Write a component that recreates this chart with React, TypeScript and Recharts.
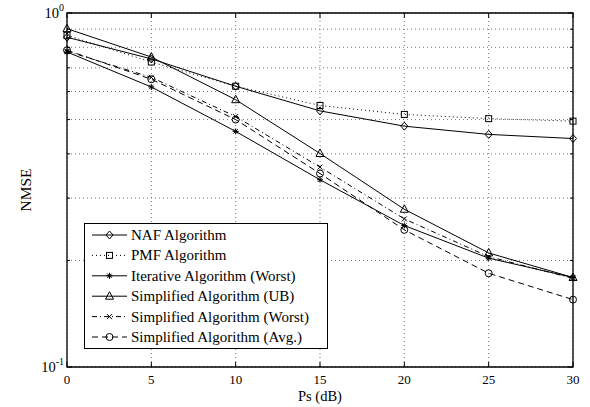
import React from "react";
import {
  LineChart,
  Line,
  XAxis,
  YAxis,
  CartesianGrid,
  Legend,
  ReferenceArea,
} from "recharts";

const psDb = [0, 5, 10, 15, 20, 25, 30];
const nafAlg = [0.854, 0.742, 0.621, 0.529, 0.479, 0.454, 0.442];
const pmfAlg = [0.865, 0.727, 0.621, 0.548, 0.517, 0.503, 0.495];
const iterWorst = [0.776, 0.618, 0.463, 0.338, 0.251, 0.203, 0.179];
const simpUB = [0.903, 0.751, 0.569, 0.401, 0.279, 0.21, 0.179];
const simpWorst = [0.78, 0.658, 0.51, 0.367, 0.262, 0.205, 0.178];
const simpAvg = [0.785, 0.65, 0.5, 0.352, 0.244, 0.184, 0.155];

const xTicks = [0, 5, 10, 15, 20, 25, 30];
const yTicks = [0.1, 0.2, 0.3, 0.4, 0.5, 0.6, 0.7, 0.8, 0.9, 1];
const yMajorLabels: Record<string, string> = { "0.1": "-1", "1": "0" };

const data = psDb.map((x, i) => ({
  x,
  naf: nafAlg[i],
  pmf: pmfAlg[i],
  iter: iterWorst[i],
  ub: simpUB[i],
  sw: simpWorst[i],
  avg: simpAvg[i],
}));

const W = 590;
const H = 407;
const PLOT_LEFT = 67;
const PLOT_RIGHT = 573;
const PLOT_TOP = 13;
const PLOT_BOTTOM = 367;
const FONT = "'Liberation Serif', 'Times New Roman', serif";

type Shape = "diamond" | "square" | "star" | "triangle" | "x" | "circle";

function Marker({ cx, cy, shape }: { cx: number; cy: number; shape: Shape }) {
  const p = { fill: "none", stroke: "#000", strokeWidth: 1 };
  switch (shape) {
    case "diamond":
      return (
        <polygon
          {...p}
          points={`${cx},${cy - 4} ${cx + 3.5},${cy} ${cx},${cy + 4} ${cx - 3.5},${cy}`}
        />
      );
    case "square":
      return <rect {...p} x={cx - 3} y={cy - 3} width={6} height={6} />;
    case "star":
      return (
        <g {...p}>
          <line x1={cx - 3} y1={cy} x2={cx + 3} y2={cy} />
          <line x1={cx} y1={cy - 3} x2={cx} y2={cy + 3} />
          <line x1={cx - 2.2} y1={cy - 2.2} x2={cx + 2.2} y2={cy + 2.2} />
          <line x1={cx - 2.2} y1={cy + 2.2} x2={cx + 2.2} y2={cy - 2.2} />
        </g>
      );
    case "triangle":
      return (
        <polygon
          {...p}
          points={`${cx},${cy - 4.5} ${cx + 4},${cy + 3} ${cx - 4},${cy + 3}`}
        />
      );
    case "x":
      return (
        <g {...p}>
          <line x1={cx - 2.5} y1={cy - 2.5} x2={cx + 2.5} y2={cy + 2.5} />
          <line x1={cx - 2.5} y1={cy + 2.5} x2={cx + 2.5} y2={cy - 2.5} />
        </g>
      );
    case "circle":
    default:
      return <circle {...p} cx={cx} cy={cy} r={3.5} />;
  }
}

const seriesDefs: {
  key: string;
  name: string;
  shape: Shape;
  dash?: string;
}[] = [
  { key: "naf", name: "NAF Algorithm", shape: "diamond" },
  { key: "pmf", name: "PMF Algorithm", shape: "square", dash: "1 3" },
  { key: "iter", name: "Iterative Algorithm (Worst)", shape: "star" },
  { key: "ub", name: "Simplified Algorithm (UB)", shape: "triangle" },
  { key: "sw", name: "Simplified Algorithm (Worst)", shape: "x", dash: "5 3 1 3" },
  { key: "avg", name: "Simplified Algorithm (Avg.)", shape: "circle", dash: "6 4" },
];

const makeDot = (shape: Shape) => (props: any) => {
  const { cx, cy, key, index } = props;
  if (cx == null || cy == null) return <g key={key ?? index} />;
  return (
    <g key={key ?? `${shape}-${index}`}>
      <Marker cx={cx} cy={cy} shape={shape} />
    </g>
  );
};

const XTick = (props: any) => {
  const { x, payload } = props;
  return (
    <g>
      <line x1={x} y1={PLOT_BOTTOM} x2={x} y2={PLOT_BOTTOM - 5} stroke="#000" />
      <line x1={x} y1={PLOT_TOP} x2={x} y2={PLOT_TOP + 5} stroke="#000" />
      <text
        x={x}
        y={PLOT_BOTTOM + 17}
        textAnchor="middle"
        fontFamily={FONT}
        fontSize={13}
        fill="#000"
      >
        {payload.value}
      </text>
    </g>
  );
};

const YTick = (props: any) => {
  const { y, payload } = props;
  const sup = yMajorLabels[String(payload.value)];
  const len = sup !== undefined ? 5 : 3;
  return (
    <g>
      <line x1={PLOT_LEFT} y1={y} x2={PLOT_LEFT + len} y2={y} stroke="#000" />
      <line x1={PLOT_RIGHT} y1={y} x2={PLOT_RIGHT - len} y2={y} stroke="#000" />
      {sup !== undefined && (
        <text
          x={PLOT_LEFT - 3}
          y={y + 5}
          textAnchor="end"
          fontFamily={FONT}
          fontSize={14.5}
          fill="#000"
        >
          10
          <tspan dy={-7} fontSize={10}>
            {sup}
          </tspan>
        </text>
      )}
    </g>
  );
};

const LEG_W = 244;
const LEG_H = 126;

const LegendBox = () => (
  <svg width={LEG_W} height={LEG_H} style={{ display: "block" }}>
    <rect
      x={0.5}
      y={0.5}
      width={LEG_W - 1}
      height={LEG_H - 1}
      fill="#fff"
      stroke="#000"
      strokeWidth={1}
    />
    {seriesDefs.map((s, i) => {
      const cy = 12 + i * 20.4;
      return (
        <g key={s.key}>
          <line
            x1={8}
            y1={cy}
            x2={43}
            y2={cy}
            stroke="#000"
            strokeWidth={1}
            strokeDasharray={s.dash}
          />
          <Marker cx={25.5} cy={cy} shape={s.shape} />
          <text
            x={47}
            y={cy + 5}
            fontFamily={FONT}
            fontSize={15}
            fill="#000"
          >
            {s.name}
          </text>
        </g>
      );
    })}
  </svg>
);

export default function App() {
  return (
    <div
      style={{
        position: "absolute",
        left: 0,
        top: 0,
        width: W,
        height: H,
        background: "#fff",
      }}
    >
      <LineChart
        width={W}
        height={H}
        data={data}
        margin={{ top: PLOT_TOP, right: W - PLOT_RIGHT, bottom: 0, left: 0 }}
      >
        <CartesianGrid stroke="#777" strokeDasharray="1 3" strokeWidth={1} />
        <XAxis
          dataKey="x"
          type="number"
          domain={[0, 30]}
          ticks={xTicks}
          interval={0}
          height={H - PLOT_BOTTOM}
          axisLine={false}
          tickLine={false}
          tick={<XTick />}
          label={() => (
            <text
              x={(PLOT_LEFT + PLOT_RIGHT) / 2}
              y={401}
              textAnchor="middle"
              fontFamily={FONT}
              fontSize={14.5}
              fill="#000"
            >
              Ps (dB)
            </text>
          )}
        />
        <YAxis
          type="number"
          scale="log"
          domain={[0.1, 1]}
          allowDataOverflow
          ticks={yTicks}
          interval={0}
          width={PLOT_LEFT}
          axisLine={false}
          tickLine={false}
          tick={<YTick />}
          label={() => (
            <text
              x={0}
              y={0}
              transform={`translate(31, ${(PLOT_TOP + PLOT_BOTTOM) / 2}) rotate(-90)`}
              textAnchor="middle"
              fontFamily={FONT}
              fontSize={15.5}
              fill="#000"
            >
              NMSE
            </text>
          )}
        />
        <ReferenceArea
          x1={0}
          x2={30}
          y1={0.1}
          y2={1}
          fill="none"
          stroke="#000"
          strokeWidth={1.3}
          ifOverflow="visible"
        />
        {seriesDefs.map((s) => (
          <Line
            key={s.key}
            dataKey={s.key}
            name={s.name}
            type="linear"
            stroke="#000"
            strokeWidth={1}
            strokeDasharray={s.dash}
            dot={makeDot(s.shape)}
            activeDot={false}
            isAnimationActive={false}
          />
        ))}
        <Legend
          layout="vertical"
          align="center"
          verticalAlign="middle"
          content={() => <LegendBox />}
          wrapperStyle={{
            left: 84,
            top: 223,
            width: LEG_W,
            height: LEG_H,
          }}
        />
      </LineChart>
    </div>
  );
}
